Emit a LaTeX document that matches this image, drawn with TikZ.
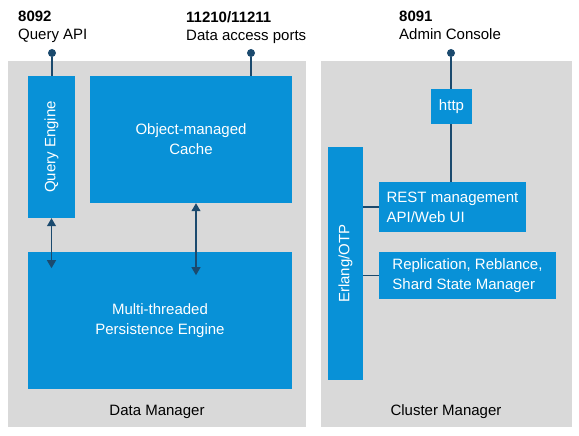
\documentclass[tikz,border=0pt]{standalone}
\usepackage{fontspec}
\setmainfont{Liberation Sans}
\usepackage{xcolor}
\usetikzlibrary{positioning,arrows.meta}
\definecolor{cbblue}{RGB}{8,145,215}
\definecolor{cbgray}{RGB}{217,217,217}
\definecolor{cbline}{RGB}{27,74,110}

\begin{document}
\begin{tikzpicture}[x=1pt,y=-1pt,
  box/.style={fill=cbblue,text=white,align=center,inner sep=0pt,font=\fontsize{15}{20}\selectfont},
  port/.style={circle,fill=cbline,inner sep=0pt,minimum size=8pt},
  link/.style={draw=cbline,line width=1.1pt,>={Triangle[length=8pt,width=9pt]}},
  caption/.style={font=\fontsize{15}{18}\selectfont,align=left,anchor=north west,inner sep=0pt}]
\useasboundingbox (0,0) rectangle (579,436);
\def\datapanel{(8,61) rectangle (306,427)}
\def\clusterpanel{(321,61) rectangle (572,427)}
      \fill[cbgray] \datapanel;
      \fill[cbgray] \clusterpanel;
      \node[box,anchor=base,fill=none,text=black] (dmlbl) at (157,415) {Data Manager};
      \node[box,anchor=base,fill=none,text=black] (cmlbl) at (446,415) {Cluster Manager};
% data manager
      \node[box,minimum width=47pt,minimum height=142pt,
        label={[box,rotate=90]center:Query Engine}] (qe) at (51.5,147) {};
      \node[box,minimum width=202pt,minimum height=127pt] (cache) at (191,139.5) {Object-managed\\Cache};
      \node[box,minimum width=264pt,minimum height=137pt] (pe) at (160,320.5) {Multi-threaded\\Persistence Engine};
      \draw[link,<->] (qe.south) -- ++(0,50);
      \draw[link,<->] ([xshift=5pt]cache.south) -- ++(0,72);
% cluster manager
      \node[box,minimum width=35pt,minimum height=233pt,
        label={[box,rotate=90]center:Erlang/OTP}] (erl) at (345.5,263.5) {};
      \node[box,align=left,minimum width=147pt,minimum height=50pt] (rest) at (452.5,207) {REST management\\API/Web UI};
      \node[box,align=left,minimum width=177pt,minimum height=47pt] (repl) at (467.5,275.5) {Replication, Reblance,\\Shard State Manager};
      \draw[link] (rest.west) -- (rest.west -| erl.east);
      \draw[link] (repl.west) -- (repl.west -| erl.east);
% ports
      \node[port] (qport) at (52,53) {};
      \node[port] (cport) at (251,53) {};
      \node[port] (aport) at (451,53) {};
      \draw[link] (qport) -- (qport |- qe.north);
      \draw[link] (cport) -- (cport |- cache.north);
      \draw[link] (aport) -- (aport |- rest.north);
      \node[box,minimum width=41pt,minimum height=35pt] (http) at (451.5,106.5) {http};
      \node[caption] (qcap) at (18,11) {\textbf{8092}\\Query API};
      \node[caption] (ccap) at (186,11) {\textbf{11210/11211}\\Data access ports};
      \node[caption] (acap) at (399,11) {\textbf{8091}\\Admin Console};
\end{tikzpicture}
\end{document}
